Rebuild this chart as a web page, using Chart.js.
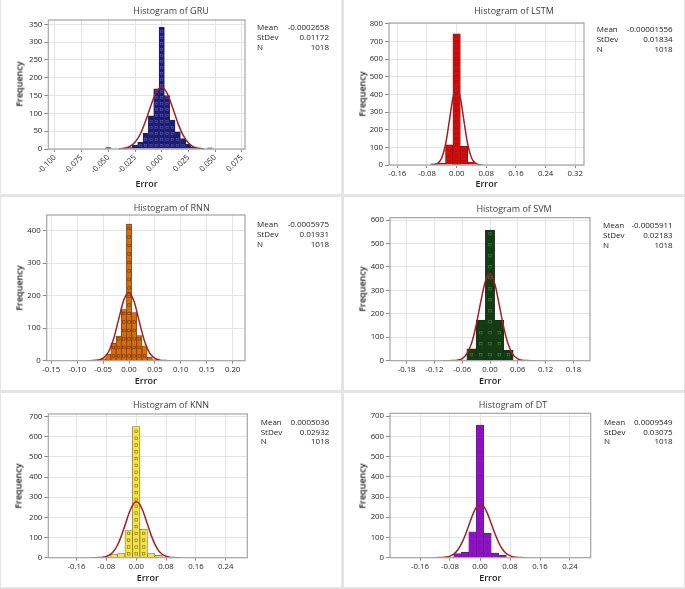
<!DOCTYPE html>
<html lang="en">
<head>
<meta charset="utf-8">
<title>Error histograms</title>
<script src="https://cdn.jsdelivr.net/npm/chart.js@4.4.1/dist/chart.umd.min.js"></script>
<style>
  html, body { margin: 0; padding: 0; }
  body {
    width: 685px; height: 589px; position: relative; overflow: hidden;
    background: #e4e4e4; color: #222;
    font-family: "Open Sans", "Noto Sans", sans-serif;
  }
  .panel { position: absolute; background: #fff; }
  .panel canvas { position: absolute; left: 0; top: 0; }
  .ttl, .axt { position: absolute; white-space: nowrap; transform: translate(-50%, -50%); }
  .ttl { font-size: 9px; color: #404040; }
  .axt { font-size: 9px; font-weight: 600; color: #222; }
  .axt.rot { transform: translate(-50%, -50%) rotate(-90deg); }
  .stats { position: absolute; font-size: 8px; line-height: 9.8px; color: #222; }
  .stats div { display: flex; justify-content: space-between; }
</style>
</head>
<body>
<script>
/* ---------- data ---------- */
const STAT_LABELS = ['Mean', 'StDev', 'N'];

// GRU
const GRU_BINS = [-0.050, -0.030, -0.025, -0.020, -0.015, -0.010, -0.005, 0.000, 0.005, 0.010, 0.015, 0.020, 0.025, 0.030, 0.045];
const GRU_COUNTS = [4, 4, 10, 19, 45, 93, 169, 342, 150, 81, 48, 29, 14, 5, 3];
const GRU_FIT_X = [-0.040, -0.035, -0.030, -0.025, -0.020, -0.015, -0.010, -0.005, 0.000, 0.005, 0.010, 0.015, 0.020, 0.025, 0.030, 0.035, 0.040];
const GRU_FIT_Y = [0.5, 2, 7, 19, 42, 79, 123, 160, 173, 157, 118, 74, 39, 17, 6, 2, 0.5];
const GRU_XTICKS = ['-0.100', '-0.075', '-0.050', '-0.025', '0.000', '0.025', '0.050', '0.075'];
const GRU_YTICKS = [0, 50, 100, 150, 200, 250, 300, 350];
const GRU_STATS = ['-0.0002658', '0.01172', '1018'];

// LSTM
const LSTM_BINS = [-0.06, -0.04, -0.02, 0.00, 0.02, 0.04];
const LSTM_COUNTS = [7, 11, 114, 743, 106, 17];
const LSTM_FIT_X = [-0.07, -0.06, -0.05, -0.04, -0.03, -0.02, -0.01, 0.00, 0.01, 0.02, 0.03, 0.04, 0.05, 0.06, 0.07];
const LSTM_FIT_Y = [0.3, 2, 11, 41, 116, 245, 382, 443, 382, 245, 116, 41, 11, 2, 0.3];
const LSTM_XTICKS = ['-0.16', '-0.08', '0.00', '0.08', '0.16', '0.24', '0.32'];
const LSTM_YTICKS = [0, 100, 200, 300, 400, 500, 600, 700, 800];
const LSTM_STATS = ['-0.00001556', '0.01834', '1018'];

// RNN
const RNN_BINS = [-0.05, -0.04, -0.03, -0.02, -0.01, 0.00, 0.01, 0.02, 0.03, 0.04, 0.05, 0.21];
const RNN_COUNTS = [6, 20, 54, 76, 157, 420, 148, 77, 46, 11, 3, 1];
const RNN_FIT_X = [-0.08, -0.07, -0.06, -0.05, -0.04, -0.03, -0.02, -0.01, 0.00, 0.01, 0.02, 0.03, 0.04, 0.05, 0.06, 0.07, 0.08];
const RNN_FIT_Y = [0.05, 0.3, 2, 8, 26, 66, 127, 187, 210, 181, 119, 60, 23, 7, 1.5, 0.3, 0.05];
const RNN_XTICKS = ['-0.15', '-0.10', '-0.05', '0.00', '0.05', '0.10', '0.15', '0.20'];
const RNN_YTICKS = [0, 100, 200, 300, 400];
const RNN_STATS = ['-0.0005975', '0.01931', '1018'];

// SVM
const SVM_BINS = [-0.08, -0.06, -0.04, -0.02, 0.00, 0.02, 0.04];
const SVM_COUNTS = [2, 3, 51, 173, 557, 172, 44];
const SVM_FIT_X = [-0.10, -0.09, -0.08, -0.07, -0.06, -0.05, -0.04, -0.03, -0.02, -0.01, 0.00, 0.01, 0.02, 0.03, 0.04, 0.05, 0.06, 0.07, 0.08, 0.09, 0.10];
const SVM_FIT_Y = [0.01, 0.1, 0.5, 2.4, 9, 29, 73, 150, 251, 339, 372, 331, 238, 139, 66, 25, 8, 2, 0.4, 0.1, 0.01];
const SVM_XTICKS = ['-0.18', '-0.12', '-0.06', '0.00', '0.06', '0.12', '0.18'];
const SVM_YTICKS = [0, 100, 200, 300, 400, 500, 600];
const SVM_STATS = ['-0.0005911', '0.02183', '1018'];

// KNN
const KNN_BINS = [-0.08, -0.06, -0.04, -0.02, 0.00, 0.02, 0.04, 0.06, 0.08, 0.16];
const KNN_COUNTS = [3, 15, 20, 135, 651, 142, 20, 12, 3, 2];
const KNN_FIT_X = [-0.12, -0.11, -0.10, -0.09, -0.08, -0.07, -0.06, -0.05, -0.04, -0.03, -0.02, -0.01, 0.00, 0.01, 0.02, 0.03, 0.04, 0.05, 0.06, 0.07, 0.08, 0.09, 0.10, 0.11, 0.12];
const KNN_FIT_Y = [0.06, 0.2, 0.8, 2.4, 6.4, 15, 33, 63, 107, 161, 217, 260, 277, 263, 222, 167, 112, 67, 35, 17, 7, 2.6, 0.9, 0.3, 0.07];
const KNN_XTICKS = ['-0.16', '-0.08', '0.00', '0.08', '0.16', '0.24'];
const KNN_YTICKS = [0, 100, 200, 300, 400, 500, 600, 700];
const KNN_STATS = ['0.0005036', '0.02932', '1018'];

// DT
const DT_BINS = [-0.06, -0.04, -0.02, 0.00, 0.02, 0.04, 0.06];
const DT_COUNTS = [20, 26, 128, 656, 120, 23, 12];
const DT_FIT_X = [-0.12, -0.11, -0.10, -0.09, -0.08, -0.07, -0.06, -0.05, -0.04, -0.03, -0.02, -0.01, 0.00, 0.01, 0.02, 0.03, 0.04, 0.05, 0.06, 0.07, 0.08, 0.09, 0.10, 0.11, 0.12];
const DT_FIT_Y = [0.1, 0.4, 1.2, 3.3, 8, 18, 37, 67, 109, 159, 210, 248, 264, 253, 218, 169, 118, 74, 42, 21, 10, 4, 1.5, 0.5, 0.15];
const DT_XTICKS = ['-0.16', '-0.08', '0.00', '0.08', '0.16', '0.24'];
const DT_YTICKS = [0, 100, 200, 300, 400, 500, 600, 700];
const DT_STATS = ['0.0009549', '0.03075', '1018'];

/* ---------- look ---------- */
const FONT_FAMILY = '"Open Sans", "Noto Sans", sans-serif';
const FIT_COLOR = '#a51e22';
const GRID_COLOR = '#e4e4e4';
const FRAME_COLOR = '#a3a3a3';
const TICK_COLOR = '#8a8a8a';

const PANELS = [
  { name: 'GRU', bins: GRU_BINS, counts: GRU_COUNTS, fitX: GRU_FIT_X, fitY: GRU_FIT_Y, xTicks: GRU_XTICKS, yTicks: GRU_YTICKS, stats: GRU_STATS,
    xMin: -0.1062, xMax: 0.078, yMax: 362, rot: 45,
    fill: '#1a1a7c', edge: '#2b2b55', mark: '#5a5aa0', step: 6, size: 2.3,
    box: { x: 1, y: 0, w: 340, h: 194 }, area: { l: 47.3, t: 20, r: 244, b: 149 },
    title: [170, 10], st: [256, 27, 328], xt: [145.5, 183], yt: [18, 84] },
  { name: 'LSTM', bins: LSTM_BINS, counts: LSTM_COUNTS, fitX: LSTM_FIT_X, fitY: LSTM_FIT_Y, xTicks: LSTM_XTICKS, yTicks: LSTM_YTICKS, stats: LSTM_STATS,
    xMin: -0.1825, xMax: 0.3436, yMax: 804, rot: 0,
    fill: '#d70d0d', edge: '#7a0c0c', mark: '#951414', step: 5.7, size: 2.5,
    box: { x: 344, y: 0, w: 340, h: 194 }, area: { l: 45, t: 23, r: 240, b: 165 },
    title: [170, 10], st: [252.7, 29, 328.7], xt: [142.5, 183], yt: [17.7, 94] },
  { name: 'RNN', bins: RNN_BINS, counts: RNN_COUNTS, fitX: RNN_FIT_X, fitY: RNN_FIT_Y, xTicks: RNN_XTICKS, yTicks: RNN_YTICKS, stats: RNN_STATS,
    xMin: -0.1589, xMax: 0.2239, yMax: 448, rot: 0,
    fill: '#d96d0b', edge: '#5a3510', mark: '#6a3a0c', step: 8.5, size: 2.5,
    box: { x: 1, y: 197, w: 340, h: 193 }, area: { l: 45.7, t: 18, r: 244, b: 163.7 },
    title: [170.7, 9.7], st: [256, 27.3, 328], xt: [144.9, 183], yt: [18, 90.8] },
  { name: 'SVM', bins: SVM_BINS, counts: SVM_COUNTS, fitX: SVM_FIT_X, fitY: SVM_FIT_Y, xTicks: SVM_XTICKS, yTicks: SVM_YTICKS, stats: SVM_STATS,
    xMin: -0.2158, xMax: 0.2158, yMax: 610, rot: 0,
    fill: '#123d12', edge: '#1c2a1c', mark: '#4f6f4f', step: 11, size: 2.5,
    box: { x: 344, y: 197, w: 340, h: 193 }, area: { l: 46, t: 20.7, r: 246, b: 163.7 },
    title: [170, 10.7], st: [259, 28, 328.7], xt: [146, 183], yt: [17.7, 92.2] },
  { name: 'KNN', bins: KNN_BINS, counts: KNN_COUNTS, fitX: KNN_FIT_X, fitY: KNN_FIT_Y, xTicks: KNN_XTICKS, yTicks: KNN_YTICKS, stats: KNN_STATS,
    xMin: -0.2355, xMax: 0.2977, yMax: 713, rot: 0,
    fill: '#f6e443', edge: '#6c6330', mark: '#7a6a20', step: 6.8, size: 2.5,
    box: { x: 1, y: 393, w: 340, h: 194 }, area: { l: 47.3, t: 21, r: 246.3, b: 164.7 },
    title: [170, 11], st: [259.7, 28.7, 328.3], xt: [146.8, 184], yt: [17.3, 92.8] },
  { name: 'DT', bins: DT_BINS, counts: DT_COUNTS, fitX: DT_FIT_X, fitY: DT_FIT_Y, xTicks: DT_XTICKS, yTicks: DT_YTICKS, stats: DT_STATS,
    xMin: -0.24, xMax: 0.2952, yMax: 714, rot: 0,
    fill: '#9012c6', edge: '#5a1a7a', mark: '#7d12ad', step: 6, size: 2.3,
    box: { x: 344, y: 393, w: 340, h: 194 }, area: { l: 46, t: 20.3, r: 246.7, b: 164.7 },
    title: [169, 11], st: [260, 28.7, 328.7], xt: [146.3, 184], yt: [17.7, 92.5] }
];

/* ---------- plugins ---------- */
// small square markers stacked in each bar (fill pattern of the original)
const barMarks = {
  id: 'barMarks',
  afterDatasetDraw(chart, args, opts) {
    const meta = args.meta;
    if (meta.type !== 'bar' || !opts.step) return;
    const ctx = chart.ctx;
    const s = opts.size;
    ctx.save();
    ctx.strokeStyle = opts.color;
    ctx.lineWidth = 0.6;
    meta.data.forEach((bar) => {
      const { x, y, base, width } = bar.getProps(['x', 'y', 'base', 'width'], true);
      if (width < s + 1.5) return;
      for (let yy = base - opts.step / 2; yy - s / 2 > y + 0.8; yy -= opts.step) {
        ctx.strokeRect(x - s / 2, yy - s / 2, s, s);
      }
    });
    ctx.restore();
  }
};

const plotFrame = {
  id: 'plotFrame',
  afterDraw(chart) {
    const { left, top, right, bottom } = chart.chartArea;
    const ctx = chart.ctx;
    ctx.save();
    ctx.strokeStyle = FRAME_COLOR;
    ctx.lineWidth = 1.2;
    ctx.strokeRect(left, top, right - left, bottom - top);
    ctx.restore();
  }
};

/* ---------- build ---------- */
function addText(parent, cls, text, x, y) {
  const el = document.createElement('div');
  el.className = cls;
  el.textContent = text;
  el.style.left = x + 'px';
  el.style.top = y + 'px';
  parent.appendChild(el);
  return el;
}

function buildPanel(p) {
  const { x, y, w, h } = p.box;
  const panel = document.createElement('div');
  panel.className = 'panel';
  Object.assign(panel.style, { left: x + 'px', top: y + 'px', width: w + 'px', height: h + 'px' });
  document.body.appendChild(panel);

  const canvas = document.createElement('canvas');
  canvas.width = w;
  canvas.height = h;
  canvas.style.width = w + 'px';
  canvas.style.height = h + 'px';
  panel.appendChild(canvas);

  addText(panel, 'ttl', `Histogram of ${p.name}`, p.title[0], p.title[1]);
  addText(panel, 'axt', 'Error', p.xt[0], p.xt[1]);
  addText(panel, 'axt rot', 'Frequency', p.yt[0], p.yt[1]);

  const stats = document.createElement('div');
  stats.className = 'stats';
  Object.assign(stats.style, { left: p.st[0] + 'px', top: (p.st[1] - 4.9) + 'px', width: (p.st[2] - p.st[0]) + 'px' });
  stats.innerHTML = STAT_LABELS.map((lab, i) => `<div><span>${lab}</span><span>${p.stats[i]}</span></div>`).join('');
  panel.appendChild(stats);

  const tickFont = { family: FONT_FAMILY, size: 7.8 };
  const a = p.area;

  new Chart(canvas, {
    type: 'bar',
    data: {
      datasets: [
        {
          type: 'line',
          data: p.fitX.map((v, i) => ({ x: v, y: p.fitY[i] })),
          borderColor: FIT_COLOR,
          borderWidth: 1.5,
          pointRadius: 0,
          tension: 0.4,
          cubicInterpolationMode: 'monotone',
          order: 0
        },
        {
          type: 'bar',
          data: p.bins.map((v, i) => ({ x: v, y: p.counts[i] })),
          backgroundColor: p.fill,
          borderColor: p.edge,
          borderWidth: 0.7,
          barPercentage: 1,
          categoryPercentage: 1,
          order: 1
        }
      ]
    },
    options: {
      responsive: false,
      animation: false,
      events: [],
      layout: { padding: { left: 0, top: a.t, right: w - a.r, bottom: 0 } },
      plugins: {
        legend: { display: false },
        tooltip: { enabled: false },
        barMarks: { color: p.mark, step: p.step, size: p.size }
      },
      scales: {
        x: {
          type: 'linear',
          min: p.xMin,
          max: p.xMax,
          offset: false,
          afterBuildTicks: (s) => { s.ticks = p.xTicks.map((t) => ({ value: parseFloat(t) })); },
          afterFit: (s) => { s.height = h - a.b; },
          ticks: {
            callback: (v, i) => p.xTicks[i],
            autoSkip: false,
            minRotation: p.rot,
            maxRotation: p.rot,
            font: tickFont,
            color: '#262626',
            padding: 1
          },
          grid: { color: GRID_COLOR, tickColor: TICK_COLOR, tickLength: 3, offset: false },
          border: { display: false }
        },
        y: {
          min: 0,
          max: p.yMax,
          afterBuildTicks: (s) => { s.ticks = p.yTicks.map((t) => ({ value: t })); },
          afterFit: (s) => { s.width = a.l; },
          ticks: { font: tickFont, color: '#262626', padding: 2 },
          grid: { color: GRID_COLOR, tickColor: TICK_COLOR, tickLength: 4 },
          border: { display: false }
        }
      }
    },
    plugins: [barMarks, plotFrame]
  });
}

PANELS.forEach(buildPanel);
</script>
</body>
</html>
